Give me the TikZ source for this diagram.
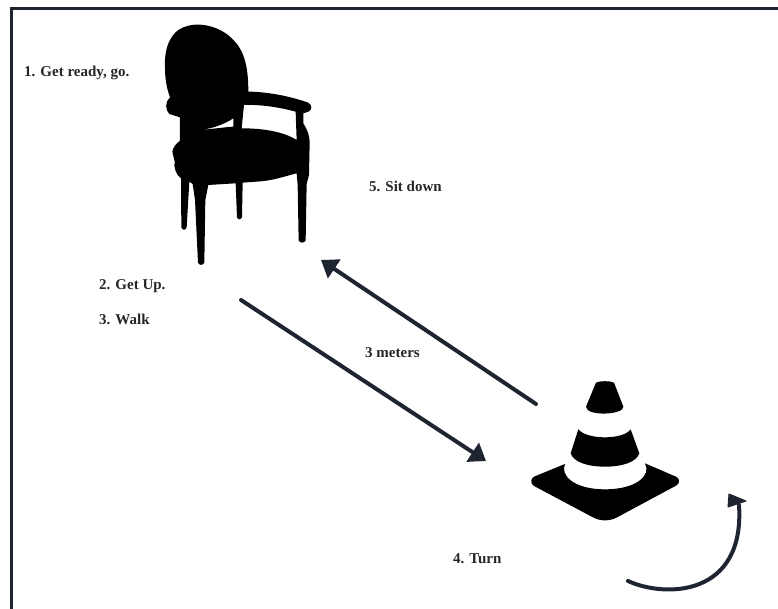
\documentclass[tikz,border=0pt]{standalone}
\usepackage{fontspec}
\setmainfont{Liberation Serif}
\usetikzlibrary{arrows.meta}
\definecolor{ink}{HTML}{1E2430}
\tikzset{
  lab/.style={anchor=west,inner sep=0pt,font=\fontsize{15}{17}\selectfont\bfseries,text=black!85},
  arrowline/.style={draw=ink,line width=4pt,line cap=round,-{Triangle[length=16pt,width=22pt]}},
  frame/.style={draw=ink,line width=3pt},
  silhouette/.style={fill=black,draw=none}
}
\begin{document}
\begin{tikzpicture}[x=1pt,y=-1pt]
\useasboundingbox (0,0) rectangle (778,609);
\fill[white] (0,0) rectangle (778,609);
\draw[frame] (11.5,609) -- (11.5,8.5) -- (778,8.5);
% chair
\begin{scope}[shift={(140,10)},x=0.3333pt,y=-0.3333pt]
\fill[silhouette,even odd rule] (75,170) .. controls (72,110) and (95,65) .. (130,52)
 .. controls (170,35) and (230,45) .. (270,80) .. controls (310,115) and (325,160) .. (325,245)
 .. controls (370,245) and (440,255) .. (505,278) .. controls (517,285) and (517,300) .. (505,305)
 -- (490,310) -- (490,340) .. controls (502,360) and (509,375) .. (509,400)
 -- (507,495) -- (500,522) -- (497,692) .. controls (490,700) and (482,700) .. (476,692) -- (473,525) -- (470,490)
 .. controls (430,500) and (400,512) .. (350,515) -- (308,518) -- (306,622) .. controls (302,630) and (294,630) .. (291,622) -- (287,520)
 -- (205,525) -- (196,570) -- (193,758) .. controls (188,767) and (178,767) .. (174,758) -- (165,570) -- (158,522) -- (148,515)
 -- (140,652) .. controls (136,662) and (128,662) .. (124,652) -- (123,505) .. controls (108,495) and (100,470) .. (104,455)
 -- (97,425) .. controls (100,410) and (110,400) .. (120,392) -- (120,322) -- (88,312)
 .. controls (75,300) and (75,275) .. (90,262) .. controls (78,230) and (75,200) .. (75,170) -- cycle
 (312,285) -- (305,355) .. controls (370,355) and (430,365) .. (470,390) -- (467,305)
 .. controls (420,292) and (360,283) .. (312,285) -- cycle
 (175,360) .. controls (210,358) and (250,352) .. (280,350) -- (280,325) .. controls (250,345) and (210,358) .. (175,360) -- cycle;
\end{scope}
% cone
\begin{scope}[shift={(510,360)},x=0.3333pt,y=-0.3333pt]
\fill[silhouette] (258,68) .. controls (270,62) and (300,62) .. (312,68) -- (340,140)
 .. controls (342,165) and (228,170) .. (228,140) -- cycle;
\fill[silhouette] (205,208) .. controls (230,240) and (340,240) .. (362,208) -- (388,280)
 .. controls (380,305) and (340,320) .. (285,320) .. controls (230,320) and (190,305) .. (182,280) -- cycle;
\fill[silhouette] (165,312) .. controls (150,345) and (190,388) .. (285,388)
 .. controls (380,388) and (425,345) .. (405,310) -- (498,350) .. controls (510,355) and (510,370) .. (500,376)
 -- (325,470) .. controls (300,485) and (270,485) .. (245,470) -- (72,378) .. controls (60,370) and (62,355) .. (72,350) -- cycle;
\end{scope}
% labels
\node[lab] (l1) at (24,73) {1. Get ready, go.};
\node[lab] (l2) at (99,286) {2. Get Up.};
\node[lab] (l3) at (99,319) {3. Walk};
\node[lab] (l5) at (369,186) {5. Sit down};
\node[lab] (lm) at (365,353) {3 meters};
\node[lab] (l4) at (453,559) {4. Turn};
% arrows
\coordinate (a1) at (536,404);
\coordinate (a2) at (321,260);
\coordinate (b1) at (241,300);
\coordinate (b2) at (486,461);
\coordinate (c1) at (628,581);
\coordinate (c2) at (739,505);
\draw[arrowline] (a1) -- (a2);
\draw[arrowline] (b1) -- (b2);
\draw[draw=ink,line width=4pt,line cap=round] (c1) .. controls (665,598) and (745,597) .. (c2);
\fill[ink,draw=ink,line width=1pt,line join=round] (729,494) -- (746,501) -- (728,507) -- cycle;
\end{tikzpicture}
\end{document}
